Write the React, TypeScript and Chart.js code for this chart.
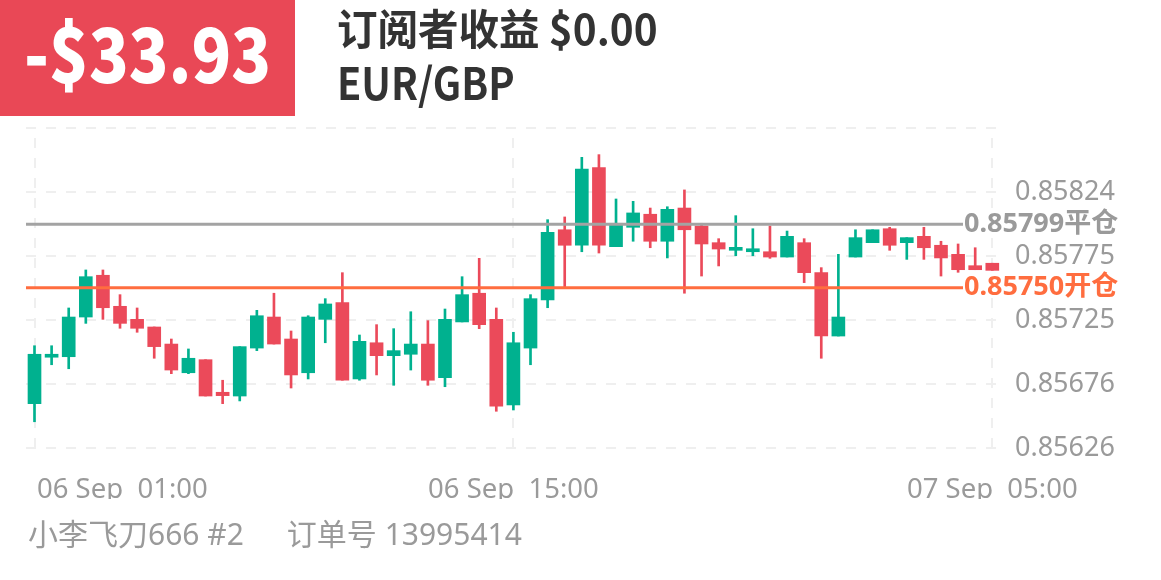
import React, { useEffect, useRef } from 'react';
import { Chart, registerables } from 'chart.js';

Chart.register(...registerables);

// 30-minute candles, 06 Sep 01:00 -> 07 Sep 05:00
const OPEN = [
  0.856603, 0.856962, 0.856966, 0.857273, 0.857596, 0.857356, 0.857255, 0.857196, 0.857064, 0.856842,
  0.856943, 0.856691, 0.856662, 0.857033, 0.857273, 0.857103, 0.856842, 0.857255, 0.857384, 0.856794,
  0.857074, 0.856974, 0.856985, 0.857064, 0.856804, 0.857235, 0.857457, 0.857255, 0.856593, 0.857033,
  0.857405, 0.857948, 0.857828, 0.858428, 0.857817, 0.857967, 0.858068, 0.857859, 0.858116, 0.857977,
  0.857848, 0.857789, 0.857778, 0.857778, 0.857737, 0.857848, 0.857616, 0.857126, 0.857737, 0.857848,
  0.857956, 0.857848, 0.857897, 0.857828, 0.857758, 0.857670, 0.857689,
];
const HIGH = [
  0.857051, 0.857051, 0.857343, 0.857637, 0.857637, 0.857446, 0.857343, 0.857196, 0.857103, 0.857026,
  0.856943, 0.856784, 0.857044, 0.857325, 0.857457, 0.857165, 0.857283, 0.857415, 0.857616, 0.857134,
  0.857214, 0.857183, 0.857314, 0.857245, 0.857335, 0.857585, 0.857727, 0.857343, 0.857155, 0.857446,
  0.858026, 0.858047, 0.858508, 0.858529, 0.858186, 0.858168, 0.858116, 0.858126, 0.858256, 0.857998,
  0.857879, 0.858057, 0.857956, 0.857977, 0.857938, 0.857879, 0.857655, 0.857758, 0.857948, 0.857948,
  0.857967, 0.857887, 0.857967, 0.857859, 0.857838, 0.857809, 0.857689,
];
const LOW = [
  0.856463, 0.856904, 0.856873, 0.857224, 0.857255, 0.857186, 0.857155, 0.856954, 0.856835, 0.856835,
  0.856662, 0.856603, 0.856624, 0.857013, 0.857064, 0.856724, 0.856794, 0.857074, 0.856784, 0.856784,
  0.856825, 0.856745, 0.856863, 0.856745, 0.856734, 0.857235, 0.857183, 0.856544, 0.856554, 0.856904,
  0.857345, 0.857508, 0.857778, 0.857768, 0.857817, 0.857859, 0.857809, 0.857730, 0.857457, 0.857590,
  0.857668, 0.857747, 0.857747, 0.857727, 0.857737, 0.857539, 0.856954, 0.857126, 0.857737, 0.857848,
  0.857789, 0.857719, 0.857719, 0.857590, 0.857619, 0.857639, 0.857634,
];
const CLOSE = [
  0.856985, 0.856970, 0.857273, 0.857585, 0.857345, 0.857224, 0.857186, 0.857044, 0.856863, 0.856954,
  0.856662, 0.856665, 0.857044, 0.857283, 0.857064, 0.856825, 0.857273, 0.857374, 0.856784, 0.857085,
  0.856974, 0.857013, 0.857064, 0.856784, 0.857255, 0.857446, 0.857214, 0.856583, 0.857074, 0.857415,
  0.857928, 0.857828, 0.858418, 0.857828, 0.857998, 0.858078, 0.857859, 0.858106, 0.857948, 0.857838,
  0.857799, 0.857809, 0.857799, 0.857737, 0.857897, 0.857616, 0.857126, 0.857273, 0.857887, 0.857948,
  0.857828, 0.857887, 0.857809, 0.857730, 0.857639, 0.857639, 0.857634,
];

const X_TICK_INDEX = [0, 28, 56];
const X_TICK_LABELS = ['06 Sep  01:00', '06 Sep  15:00', '07 Sep  05:00'];

const Y_MIN = 0.85626;
const Y_MAX = 0.858735;
const Y_TICK_VALUES = [0.85626, 0.856755, 0.85725, 0.857745, 0.85824, 0.858735];
const Y_TICK_LABELS = ['0.85626', '0.85676', '0.85725', '0.85775', '0.85824', ''];

const REF_VALUES = [0.85799, 0.8575];
const REF_LABELS = ['0.85799平仓', '0.85750开仓'];

const GREEN = '#00b18f';
const RED = '#eb4a5a';
const GRID = '#efefef';
const LABEL_GREY = '#9a9a9a';
const REF_LINE_COLORS = ['#a3a3a3', '#ff6d3f'];
const REF_TEXT_COLORS = ['#9a9a9a', '#ff6d3f'];

const refLinesPlugin = {
  id: 'refLines',
  afterDatasetsDraw(chart: any) {
    const { ctx, chartArea, scales } = chart;
    const y = scales.y;
    const endX = chartArea.right - 37;
    ctx.save();
    REF_VALUES.forEach((v, i) => {
      const py = y.getPixelForValue(v);
      ctx.strokeStyle = REF_LINE_COLORS[i];
      ctx.lineWidth = 3;
      ctx.beginPath();
      ctx.moveTo(chartArea.left, py);
      ctx.lineTo(endX, py);
      ctx.stroke();
      ctx.fillStyle = REF_TEXT_COLORS[i];
      ctx.font = 'bold 27px "Noto Sans", "Noto Sans CJK SC"';
      ctx.textAlign = 'left';
      ctx.textBaseline = 'middle';
      ctx.fillText(REF_LABELS[i], endX + 1, py);
    });
    ctx.restore();
  },
};

const xLabelsPlugin = {
  id: 'xLabels',
  afterDraw(chart: any) {
    const { ctx, chartArea, scales } = chart;
    const x = scales.x;
    const base = chartArea.bottom + 50;
    ctx.save();
    ctx.beginPath();
    ctx.rect(0, 0, chart.width, base + 1);
    ctx.clip();
    ctx.font = '27.5px "Noto Sans"';
    ctx.fillStyle = LABEL_GREY;
    ctx.textBaseline = 'alphabetic';
    X_TICK_INDEX.forEach((v, i) => {
      const px = x.getPixelForValue(v);
      if (i === 0) {
        ctx.textAlign = 'left';
        ctx.fillText(X_TICK_LABELS[i], px + 2.5, base);
      } else {
        ctx.textAlign = 'center';
        ctx.fillText(X_TICK_LABELS[i], px, base);
      }
    });
    ctx.restore();
  },
};

export default function App() {
  const ref = useRef<HTMLCanvasElement | null>(null);

  useEffect(() => {
    if (!ref.current) return;
    const colors = OPEN.map((o, i) => (CLOSE[i] >= o ? GREEN : RED));
    const bodies = OPEN.map((o, i) => ({ x: i, y: [Math.min(o, CLOSE[i]), Math.max(o, CLOSE[i])] }));
    const wicks = LOW.map((l, i) => ({ x: i, y: [l, HIGH[i]] }));

    const chart = new Chart(ref.current, {
      type: 'bar',
      data: {
        datasets: [
          { data: bodies as any, backgroundColor: colors, barThickness: 13, minBarLength: 3, grouped: false, borderWidth: 0 } as any,
          { data: wicks as any, backgroundColor: colors, barThickness: 2, minBarLength: 1, grouped: false, borderWidth: 0 } as any,
        ],
      },
      options: {
        responsive: false,
        animation: false,
        layout: { padding: { left: 26, top: 128, right: 0, bottom: 0 } },
        plugins: { legend: { display: false }, tooltip: { enabled: false } },
        scales: {
          x: {
            type: 'linear',
            min: -0.497,
            max: 56.45,
            offset: false,
            afterBuildTicks: (s: any) => {
              s.ticks = X_TICK_INDEX.map((v) => ({ value: v }));
            },
            afterFit: (s: any) => {
              s.height = 132;
            },
            ticks: { display: false },
            grid: { color: GRID, lineWidth: 2, drawTicks: false, offset: false },
            border: { display: false, dash: [10, 10], dashOffset: 10 },
          },
          y: {
            type: 'linear',
            position: 'right',
            min: Y_MIN,
            max: Y_MAX,
            afterBuildTicks: (s: any) => {
              s.ticks = Y_TICK_VALUES.map((v) => ({ value: v }));
            },
            afterFit: (s: any) => {
              s.width = 161;
            },
            ticks: {
              padding: 15,
              color: LABEL_GREY,
              autoSkip: false,
              font: { family: '"Noto Sans"', size: 27 },
              callback: (_v: any, i: number) => Y_TICK_LABELS[i],
            },
            grid: { color: GRID, lineWidth: 2, drawTicks: false },
            border: { display: false, dash: [10, 10] },
          },
        },
      } as any,
      plugins: [refLinesPlugin, xLabelsPlugin],
    });
    return () => chart.destroy();
  }, []);

  const cjkBold = '"Noto Sans CJK SC", sans-serif';
  return (
    <div style={{ position: 'absolute', left: 0, top: 0, width: 1161, height: 580, background: '#fff', overflow: 'hidden' }}>
      <canvas ref={ref} width={1161} height={580} style={{ position: 'absolute', left: 0, top: 0, width: 1161, height: 580 }} />
      <div
        style={{
          position: 'absolute', left: 0, top: 0, width: 295, height: 116, background: '#e94856',
        }}
      />
      <div
        style={{
          position: 'absolute', left: 0, top: 12, width: 295, textAlign: 'center', color: '#fff',
          fontFamily: cjkBold, fontWeight: 900, fontSize: 76, lineHeight: '76px', whiteSpace: 'nowrap',
          transform: 'scaleX(0.86)', transformOrigin: '148px 0',
        }}
      >
        -$33.93
      </div>
      <div
        style={{
          position: 'absolute', left: 337, top: 6, color: '#333', fontFamily: cjkBold, fontWeight: 700,
          fontSize: 42, lineHeight: '42px', whiteSpace: 'nowrap',
          transform: 'scaleX(0.965)', transformOrigin: '0 0',
        }}
      >
        订阅者收益 $0.00
      </div>
      <div
        style={{
          position: 'absolute', left: 337, top: 59, color: '#333', fontFamily: cjkBold, fontWeight: 700,
          fontSize: 44, lineHeight: '44px', whiteSpace: 'nowrap',
          transform: 'scaleX(0.9)', transformOrigin: '0 0',
        }}
      >
        EUR/GBP
      </div>
      <div
        style={{
          position: 'absolute', left: 28, top: 519, color: LABEL_GREY, fontFamily: '"Noto Sans", "Noto Sans CJK SC", sans-serif',
          fontSize: 30, lineHeight: '30px', whiteSpace: 'nowrap',
        }}
      >
        <span>小李飞刀666 #2</span>
        <span style={{ marginLeft: 43 }}>订单号 13995414</span>
      </div>
    </div>
  );
}
